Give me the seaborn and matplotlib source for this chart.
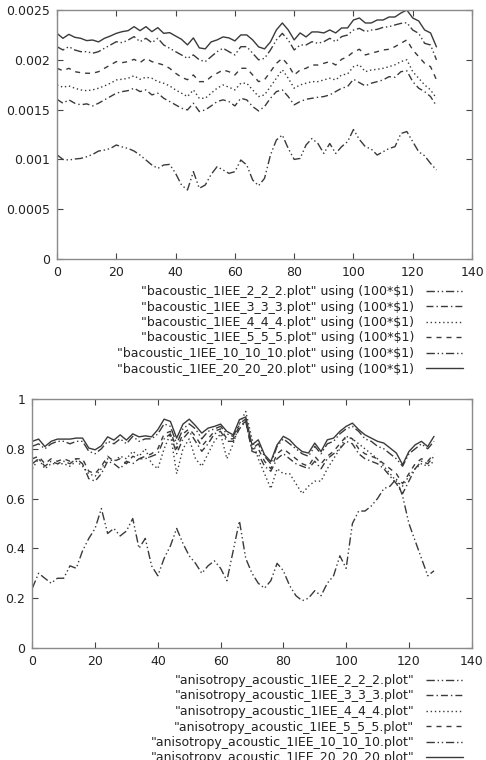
import numpy as np
import pandas as pd
import matplotlib
matplotlib.use('Agg')
from matplotlib import pyplot as plt
from matplotlib.ticker import FixedLocator, FuncFormatter
import seaborn as sns

# sample positions shared by every curve
x_vals = list(range(0, 129, 2))

# top panel: bacoustic_1IEE_* values
bac_2 = [0.001046, 0.00100, 0.000994, 0.001004, 0.00101, 0.001027, 0.00105, 0.001084, 0.001094, 0.00111,
         0.001145, 0.001125, 0.00111, 0.001084, 0.001044, 0.000994, 0.000944, 0.00091, 0.000944, 0.00095,
         0.00086, 0.000743, 0.000693, 0.000877, 0.00071, 0.000743, 0.00085, 0.000927, 0.000894, 0.00086,
         0.000877, 0.000994, 0.000944, 0.000793, 0.000736, 0.00081, 0.001044, 0.001195, 0.001245, 0.00111,
         0.00100, 0.00101, 0.001145, 0.00121, 0.00116, 0.00106, 0.00116, 0.00106, 0.001128, 0.001178,
         0.00130, 0.00120, 0.001128, 0.001104, 0.001044, 0.001077, 0.00111, 0.001128, 0.00126, 0.00128,
         0.001178, 0.001077, 0.001037, 0.00096, 0.000894]
bac_3 = [0.001604, 0.001564, 0.001598, 0.001564, 0.001548, 0.001558, 0.001537, 0.001564, 0.001598, 0.001631,
         0.001665, 0.001681, 0.001691, 0.001715, 0.001681, 0.001698, 0.001648, 0.001665, 0.001614, 0.001581,
         0.001548, 0.001514, 0.001497, 0.001564, 0.001481, 0.001497, 0.001537, 0.001581, 0.001598, 0.001581,
         0.001537, 0.001614, 0.001598, 0.001531, 0.001487, 0.001531, 0.001614, 0.001681, 0.001698, 0.001631,
         0.001548, 0.001581, 0.001604, 0.001614, 0.001624, 0.001631, 0.001648, 0.001681, 0.001715, 0.001731,
         0.001805, 0.001771, 0.001738, 0.001765, 0.001781, 0.001798, 0.001831, 0.001825, 0.001881, 0.00189,
         0.001781, 0.001715, 0.001681, 0.001631, 0.001537]
bac_4 = [0.001748, 0.001725, 0.001738, 0.001715, 0.001698, 0.00169, 0.001698, 0.001715, 0.001738, 0.001765,
         0.001798, 0.001805, 0.001815, 0.00184, 0.001805, 0.001825, 0.001815, 0.001781, 0.001765, 0.001738,
         0.001698, 0.001665, 0.001631, 0.001698, 0.001614, 0.001614, 0.001665, 0.001715, 0.001748, 0.001725,
         0.001698, 0.001765, 0.001765, 0.001698, 0.001631, 0.001648, 0.001731, 0.001815, 0.0019, 0.001815,
         0.001715, 0.001748, 0.001765, 0.001781, 0.001781, 0.001798, 0.001815, 0.001798, 0.001848, 0.001858,
         0.001931, 0.00195, 0.001881, 0.001898, 0.001905, 0.001915, 0.001931, 0.00195, 0.001982, 0.0020,
         0.001881, 0.001815, 0.001748, 0.001698, 0.001614]
bac_5 = [0.001915, 0.001891, 0.001915, 0.001881, 0.001871, 0.001865, 0.001865, 0.001881, 0.001915, 0.001948,
         0.001982, 0.001972, 0.001982, 0.002005, 0.001972, 0.002015, 0.001982, 0.001965, 0.001948, 0.001915,
         0.001865, 0.001825, 0.0018, 0.001848, 0.001781, 0.001781, 0.001831, 0.001865, 0.001898, 0.001881,
         0.001848, 0.001915, 0.001915, 0.001848, 0.001781, 0.0018, 0.001881, 0.001965, 0.002015, 0.001948,
         0.001848, 0.001898, 0.001915, 0.001948, 0.001948, 0.001965, 0.001982, 0.001948, 0.002005, 0.002032,
         0.00208, 0.002106, 0.002049, 0.002066, 0.002082, 0.002099, 0.002106, 0.002132, 0.002166, 0.0022,
         0.002099, 0.002032, 0.001965, 0.001931, 0.0018]
bac_10 = [0.002132, 0.002099, 0.002132, 0.002099, 0.002082, 0.002082, 0.002066, 0.002082, 0.002116, 0.002149,
          0.002182, 0.002172, 0.002199, 0.002233, 0.002182, 0.002216, 0.002172, 0.002216, 0.002149, 0.002116,
          0.002082, 0.002049, 0.002015, 0.002049, 0.0020, 0.001982, 0.002032, 0.002082, 0.002116, 0.002082,
          0.002049, 0.002132, 0.002132, 0.002066, 0.0020, 0.002015, 0.002099, 0.002199, 0.002266, 0.002199,
          0.002099, 0.002149, 0.002149, 0.002182, 0.002166, 0.002182, 0.002216, 0.002182, 0.002233, 0.002249,
          0.002299, 0.002316, 0.002283, 0.002299, 0.002306, 0.002326, 0.002333, 0.00235, 0.002366, 0.002373,
          0.002299, 0.002266, 0.002166, 0.002149, 0.0020]
bac_20 = [0.002266, 0.002216, 0.002256, 0.002226, 0.002216, 0.002193, 0.002199, 0.00218, 0.002216, 0.002239,
          0.002266, 0.002283, 0.002293, 0.002333, 0.002293, 0.002333, 0.002283, 0.002323, 0.002266, 0.002273,
          0.002239, 0.002206, 0.00215, 0.00222, 0.00212, 0.00211, 0.00218, 0.0022, 0.00223, 0.00222,
          0.00219, 0.00225, 0.00225, 0.0022, 0.00213, 0.00211, 0.00218, 0.0023, 0.00237, 0.0023,
          0.0022, 0.00227, 0.00223, 0.00228, 0.00228, 0.00227, 0.0023, 0.00227, 0.00232, 0.00232,
          0.0024, 0.00242, 0.00237, 0.00237, 0.0024, 0.0024, 0.00243, 0.00243, 0.00247, 0.0025,
          0.00242, 0.00239, 0.0023, 0.00227, 0.00213]

# bottom panel: anisotropy_acoustic_1IEE_* values
ani_2 = [0.24, 0.30, 0.28, 0.26, 0.28, 0.28, 0.33, 0.32, 0.39, 0.44,
         0.48, 0.56, 0.46, 0.48, 0.45, 0.47, 0.52, 0.40, 0.44, 0.33,
         0.29, 0.36, 0.41, 0.48, 0.42, 0.37, 0.34, 0.30, 0.33, 0.35,
         0.32, 0.27, 0.39, 0.51, 0.36, 0.30, 0.26, 0.24, 0.27, 0.34,
         0.31, 0.25, 0.21, 0.19, 0.20, 0.23, 0.21, 0.26, 0.29, 0.37,
         0.32, 0.50, 0.55, 0.55, 0.57, 0.60, 0.64, 0.65, 0.68, 0.61,
         0.50, 0.43, 0.36, 0.29, 0.31]
ani_3 = [0.74, 0.76, 0.73, 0.75, 0.74, 0.75, 0.74, 0.76, 0.74, 0.68,
         0.67, 0.70, 0.75, 0.74, 0.72, 0.75, 0.74, 0.76, 0.76, 0.77,
         0.78, 0.84, 0.86, 0.78, 0.84, 0.87, 0.83, 0.79, 0.82, 0.86,
         0.87, 0.83, 0.83, 0.88, 0.91, 0.79, 0.78, 0.73, 0.71, 0.76,
         0.78, 0.76, 0.74, 0.73, 0.72, 0.75, 0.72, 0.76, 0.78, 0.80,
         0.83, 0.82, 0.78, 0.76, 0.75, 0.74, 0.72, 0.69, 0.66, 0.62,
         0.67, 0.72, 0.75, 0.74, 0.77]
ani_4 = [0.72, 0.76, 0.72, 0.74, 0.74, 0.74, 0.73, 0.75, 0.73, 0.70,
         0.69, 0.72, 0.76, 0.75, 0.77, 0.76, 0.79, 0.77, 0.80, 0.74,
         0.72, 0.80, 0.86, 0.70, 0.80, 0.84, 0.76, 0.73, 0.78, 0.83,
         0.86, 0.76, 0.82, 0.90, 0.95, 0.84, 0.76, 0.70, 0.64, 0.72,
         0.70, 0.70, 0.66, 0.62, 0.65, 0.67, 0.67, 0.72, 0.76, 0.80,
         0.85, 0.84, 0.82, 0.80, 0.78, 0.76, 0.73, 0.70, 0.67, 0.65,
         0.69, 0.72, 0.74, 0.73, 0.75]
ani_5 = [0.76, 0.77, 0.74, 0.76, 0.75, 0.76, 0.75, 0.76, 0.76, 0.71,
         0.70, 0.73, 0.77, 0.75, 0.76, 0.74, 0.77, 0.76, 0.77, 0.78,
         0.80, 0.86, 0.87, 0.80, 0.86, 0.88, 0.85, 0.81, 0.84, 0.87,
         0.88, 0.84, 0.84, 0.89, 0.91, 0.80, 0.80, 0.75, 0.72, 0.78,
         0.80, 0.78, 0.76, 0.74, 0.73, 0.77, 0.74, 0.77, 0.79, 0.82,
         0.85, 0.84, 0.80, 0.78, 0.77, 0.76, 0.74, 0.72, 0.70, 0.66,
         0.70, 0.74, 0.76, 0.75, 0.78]
ani_10 = [0.81, 0.82, 0.80, 0.82, 0.83, 0.83, 0.82, 0.83, 0.83, 0.79,
          0.78, 0.80, 0.83, 0.82, 0.84, 0.82, 0.85, 0.83, 0.84, 0.84,
          0.86, 0.90, 0.89, 0.82, 0.88, 0.90, 0.88, 0.84, 0.87, 0.88,
          0.89, 0.86, 0.85, 0.90, 0.92, 0.80, 0.82, 0.77, 0.74, 0.81,
          0.84, 0.82, 0.80, 0.78, 0.77, 0.81, 0.78, 0.82, 0.83, 0.86,
          0.88, 0.89, 0.87, 0.84, 0.83, 0.81, 0.80, 0.78, 0.76, 0.73,
          0.78, 0.80, 0.82, 0.80, 0.83]
ani_20 = [0.830, 0.839, 0.809, 0.830, 0.839, 0.839, 0.839, 0.843, 0.843, 0.803,
          0.796, 0.812, 0.848, 0.835, 0.856, 0.835, 0.860, 0.848, 0.852, 0.848,
          0.877, 0.919, 0.910, 0.843, 0.899, 0.919, 0.893, 0.863, 0.883, 0.890,
          0.899, 0.870, 0.856, 0.917, 0.928, 0.816, 0.836, 0.776, 0.749, 0.816,
          0.850, 0.836, 0.809, 0.789, 0.783, 0.823, 0.789, 0.836, 0.843, 0.870,
          0.890, 0.903, 0.877, 0.856, 0.843, 0.830, 0.823, 0.803, 0.783, 0.736,
          0.789, 0.816, 0.830, 0.809, 0.850]

grid_sizes = ['2_2_2', '3_3_3', '4_4_4', '5_5_5', '10_10_10', '20_20_20']

top_labels = ['"bacoustic_1IEE_%s.plot" using (100*$1)' % g for g in grid_sizes]
bottom_labels = ['"anisotropy_acoustic_1IEE_%s.plot"' % g for g in grid_sizes]

line_color = '#3a3a3a'
# gnuplot style dash types: dash-dot-dot, dash-dot, dotted, dashed, dash-dot-dot, solid
dash_styles = [(0, (6, 2, 1, 2, 1, 2)),
               (0, (5, 2.2, 1, 2.2)),
               (0, (1, 2)),
               (0, (3.6, 3.6)),
               (0, (6, 2, 1, 2, 1, 2)),
               '-']

sns.set_style('ticks')
plt.rcParams['font.family'] = ['DejaVu Sans']

fig = plt.figure(figsize=(4.86, 7.6), dpi=100)
ax_top = fig.add_axes([0.1173, 0.6592, 0.854, 0.3276])
ax_bot = fig.add_axes([0.0665, 0.1474, 0.904, 0.3276])


def draw_panel(ax, series, labels, y_ticks, legend_anchor):
    for values, label, ls in zip(series, labels, dash_styles):
        df = pd.DataFrame({'x': x_vals, 'y': values})
        sns.lineplot(data=df, x='x', y='y', ax=ax, color=line_color, linewidth=1.0,
                     linestyle=ls, label=label, errorbar=None)
    ax.set_xlim(0, 140)
    ax.set_ylim(y_ticks[0], y_ticks[-1])
    ax.xaxis.set_major_locator(FixedLocator(range(0, 141, 20)))
    ax.yaxis.set_major_locator(FixedLocator(y_ticks))
    ax.yaxis.set_major_formatter(FuncFormatter(lambda v, p: '%g' % v))
    ax.set_xlabel('')
    ax.set_ylabel('')
    for sp in ax.spines.values():
        sp.set_visible(True)
        sp.set_color('#8a8a8a')
        sp.set_linewidth(1.0)
    ax.tick_params(direction='in', length=4, width=0.8, color='#444444',
                   top=True, right=True, labelsize=9, labelcolor='#222222', pad=5)
    leg = ax.legend(loc='upper right', bbox_to_anchor=legend_anchor,
                    bbox_transform=fig.transFigure, frameon=False, markerfirst=False,
                    fontsize=9, handlelength=3.0, handletextpad=0.9, labelspacing=0.2,
                    borderpad=0, borderaxespad=0)
    for txt in leg.get_texts():
        txt.set_color('#222222')


draw_panel(ax_top, [bac_2, bac_3, bac_4, bac_5, bac_10, bac_20], top_labels,
           [0, 0.0005, 0.001, 0.0015, 0.002, 0.0025], (463 / 486, 1 - 285 / 760))
draw_panel(ax_bot, [ani_2, ani_3, ani_4, ani_5, ani_10, ani_20], bottom_labels,
           [0, 0.2, 0.4, 0.6, 0.8, 1.0], (463 / 486, 1 - 674 / 760))

plt.savefig('out.png', dpi=100)
